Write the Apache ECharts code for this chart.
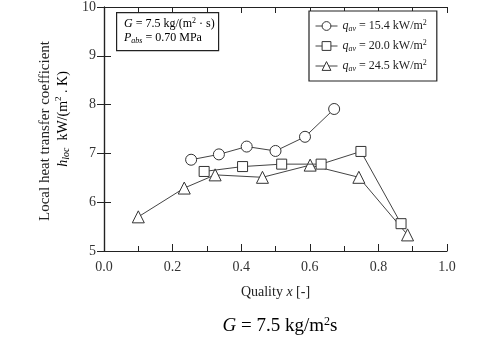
<!DOCTYPE html>
<html><head><meta charset="utf-8">
<script src="https://cdn.jsdelivr.net/npm/echarts@6/dist/echarts.min.js"></script>
<style>html,body{margin:0;padding:0;background:#fff}#c{width:492px;height:358px}</style>
</head><body><div id="c"></div>
<script>
const seriesNames = ['15.4', '20.0', '24.5'];
const q154 = [[0.254, 6.87], [0.335, 6.98], [0.416, 7.14], [0.50, 7.05], [0.586, 7.34], [0.671, 7.91]];
const q200 = [[0.292, 6.63], [0.404, 6.73], [0.518, 6.78], [0.633, 6.78], [0.749, 7.04], [0.866, 5.56]];
const q245 = [[0.10, 5.70], [0.234, 6.29], [0.324, 6.56], [0.462, 6.51], [0.601, 6.76], [0.743, 6.51], [0.885, 5.33]];
const xTicks = [0, 0.2, 0.4, 0.6, 0.8, 1.0];
const yTicks = [5, 6, 7, 8, 9, 10];

const FONT = '"Liberation Serif", "DejaVu Serif", serif';
const chart = echarts.init(document.getElementById('c'));
const symbols = ['circle', 'rect', 'triangle'];
const sizes = [11, 10, 12];
const datas = [q154, q200, q245];
const rich = {
  q: {fontFamily: FONT, fontStyle: 'italic', fontSize: 12, color: '#222'},
  sub: {fontFamily: FONT, fontStyle: 'italic', fontSize: 8, color: '#222', verticalAlign: 'bottom', padding: [6, 0, 0, 0]},
  t: {fontFamily: FONT, fontSize: 12, color: '#222'},
  sup: {fontFamily: FONT, fontSize: 8, color: '#222', verticalAlign: 'top', padding: [0, 0, 6, 0]}
};
function line() { return {show: true, lineStyle: {color: '#222', width: 1.2}}; }
function tick(len) { return {show: true, inside: true, length: len, lineStyle: {color: '#222', width: 1}}; }
chart.setOption({
  animation: false,
  backgroundColor: '#fff',
  grid: {left: 104, right: 45, top: 5, bottom: 107},
  xAxis: [
    {
      type: 'value', min: 0, max: 1, interval: 0.2, position: 'bottom',
      axisLine: line(), axisTick: tick(7), splitLine: {show: false},
      minorTick: {show: true, splitNumber: 2, length: 5, lineStyle: {color: '#222'}},
      axisLabel: {fontFamily: FONT, fontSize: 14, color: '#333', margin: 9,
        formatter: v => { const i = xTicks.findIndex(t => Math.abs(t - v) < 1e-6); return i >= 0 ? xTicks[i].toFixed(1) : ''; }},
      name: '{a|Quality }{b|x}{a| [-]}', nameLocation: 'middle', nameGap: 34,
      nameTextStyle: {rich: {a: {fontFamily: FONT, fontSize: 14, color: '#222'}, b: {fontFamily: FONT, fontSize: 14, fontStyle: 'italic', color: '#222'}}}
    },
    {
      type: 'value', min: 0, max: 1, interval: 0.1, position: 'top',
      axisLine: line(), axisTick: tick(6), splitLine: {show: false},
      axisLabel: {show: false}
    }
  ],
  yAxis: [
    {
      type: 'value', min: 5, max: 10, interval: 1, position: 'left',
      axisLine: line(), axisTick: tick(7), splitLine: {show: false},
      axisLabel: {fontFamily: FONT, fontSize: 14, color: '#333', margin: 8,
        formatter: v => { const i = yTicks.indexOf(v); return i >= 0 ? String(yTicks[i]) : ''; }}
    },
    {
      type: 'value', min: 5, max: 10, interval: 1, position: 'right',
      axisLine: line(), axisTick: tick(7), splitLine: {show: false},
      axisLabel: {show: false}
    }
  ],
  legend: {
    orient: 'vertical', left: 309, top: 11, width: 128,
    padding: [8, 10, 8, 6], itemGap: 6, itemWidth: 22, itemHeight: 11,
    borderColor: '#222', borderWidth: 1.2, backgroundColor: '#fff',
    data: seriesNames,
    itemStyle: {color: '#fff', borderColor: '#333', borderWidth: 1},
    lineStyle: {color: '#444', width: 1},
    textStyle: {rich: rich},
    formatter: n => '{q|q}{sub|av}{t| = ' + n + ' kW/m}{sup|2}'
  },
  series: datas.map((d, i) => ({
    type: 'line', name: seriesNames[i], data: d, xAxisIndex: 0, yAxisIndex: 0,
    symbol: symbols[i], symbolSize: sizes[i], showAllSymbol: true,
    lineStyle: {color: '#444', width: 1},
    itemStyle: {color: '#fff', borderColor: '#333', borderWidth: 1},
    z: 3 - i
  })),
  graphic: [
    {type: 'rect', left: 116, top: 12, shape: {width: 102, height: 38}, style: {fill: '#fff', stroke: '#222', lineWidth: 1.2}},
    {type: 'text', left: 124, top: 17, style: {
      text: '{i|G}{t| = 7.5 kg/(m}{sup|2}{t| · s)}\n{i|P}{sub|abs}{t| = 0.70 MPa}',
      rich: {
        i: {fontFamily: FONT, fontStyle: 'italic', fontSize: 12, color: '#222', lineHeight: 14},
        t: {fontFamily: FONT, fontSize: 12, color: '#222', lineHeight: 14},
        sup: {fontFamily: FONT, fontSize: 8, color: '#222', verticalAlign: 'top', padding: [0, 0, 6, 0], lineHeight: 14},
        sub: {fontFamily: FONT, fontStyle: 'italic', fontSize: 8, color: '#222', verticalAlign: 'bottom', padding: [6, 0, 0, 0], lineHeight: 14}
      }}},
    {type: 'text', x: 45, y: 131, rotation: Math.PI / 2, style: {
      text: 'Local heat transfer coefficient', fontFamily: FONT, fontSize: 15, fill: '#222',
      align: 'center', verticalAlign: 'middle'}},
    {type: 'text', x: 63, y: 119, rotation: Math.PI / 2, style: {
      text: '{i|h}{sub|loc}{t|  kW/(m}{sup|2}{t| . K)}', align: 'center', verticalAlign: 'middle',
      rich: {
        i: {fontFamily: FONT, fontStyle: 'italic', fontSize: 14, color: '#222'},
        t: {fontFamily: FONT, fontSize: 14, color: '#222'},
        sup: {fontFamily: FONT, fontSize: 9, color: '#222', verticalAlign: 'top', padding: [0, 0, 7, 0]},
        sub: {fontFamily: FONT, fontStyle: 'italic', fontSize: 10, color: '#222', verticalAlign: 'bottom', padding: [7, 0, 0, 0]}
      }}},
    {type: 'text', x: 280, y: 326, style: {
      text: '{i|G}{t| = 7.5 kg/m}{sup|2}{t|s}', align: 'center', verticalAlign: 'middle',
      rich: {
        i: {fontFamily: FONT, fontStyle: 'italic', fontSize: 19, color: '#111'},
        t: {fontFamily: FONT, fontSize: 19, color: '#111'},
        sup: {fontFamily: FONT, fontSize: 12, color: '#111', verticalAlign: 'top', padding: [0, 0, 8, 0]}
      }}}
  ]
});
</script></body></html>
